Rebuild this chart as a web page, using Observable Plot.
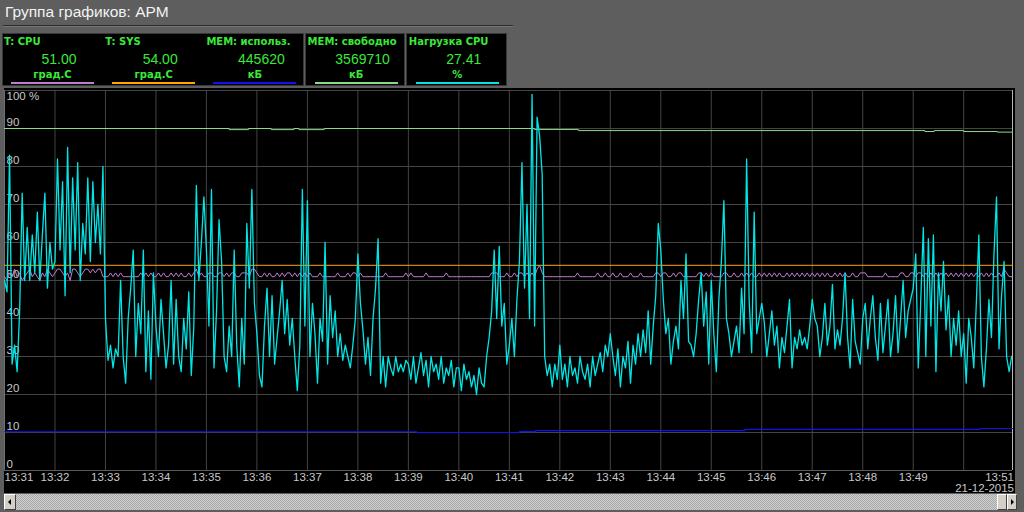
<!DOCTYPE html>
<html><head><meta charset="utf-8">
<script src="https://cdn.jsdelivr.net/npm/d3@7"></script>
<script src="https://cdn.jsdelivr.net/npm/@observablehq/plot@0.6"></script>
<style>
html,body{margin:0;padding:0;}
body{width:1024px;height:512px;background:#5e5e5e;overflow:hidden;position:relative;font-family:"Liberation Sans",Arial,sans-serif;}
.abs{position:absolute;}
#title{left:5px;top:3px;font-size:15.5px;line-height:18px;color:#f2f2f2;white-space:nowrap;}
.box{background:#000;border:1px solid #383838;box-sizing:border-box;}
.lab{font-family:"DejaVu Sans",sans-serif;font-weight:bold;font-size:10px;line-height:12px;color:#3ae83a;white-space:nowrap;}
.val{font-family:"Liberation Sans",Arial,sans-serif;font-size:14px;line-height:16px;color:#3ae83a;width:100px;text-align:center;white-space:nowrap;}
.unit{font-family:"DejaVu Sans",sans-serif;font-weight:bold;font-size:10px;line-height:12px;color:#3ae83a;width:100px;text-align:center;white-space:nowrap;}
#chart{left:4px;top:88px;}
#track{left:4px;top:494px;width:1012px;height:16px;background:repeating-conic-gradient(#cfcfcf 0 25%,#a8a8a8 0 50%) 0 0/2px 2px;}
.btn{top:494px;height:16px;background:#d4d0c8;box-sizing:border-box;border-top:1px solid #fff;border-left:1px solid #fff;border-right:1px solid #404040;border-bottom:1px solid #404040;}
.arrowL{width:0;height:0;border-top:3px solid transparent;border-bottom:3px solid transparent;border-right:3px solid #000;position:absolute;left:3px;top:4px;}
.arrowR{width:0;height:0;border-top:3px solid transparent;border-bottom:3px solid transparent;border-left:3px solid #000;position:absolute;left:3px;top:4px;}
</style></head><body>
<div id="title" class="abs">Группа графиков: АРМ</div>
<div class="abs" style="left:3px;top:25px;width:510px;height:1px;background:#2c2c2c"></div>
<div class="abs" style="left:3px;top:26px;width:510px;height:1px;background:#767676"></div>
<div id="legend"></div>
<div id="chart" class="abs"></div>
<div id="track" class="abs"></div>
<div class="abs btn" style="left:4px;width:12px"><div class="arrowL"></div></div>
<div class="abs btn" style="left:997px;width:10px"></div>
<div class="abs btn" style="left:1007px;width:10px"><div class="arrowR"></div></div>
<script>
// ---------- legend data ----------
const legendLabels = ["T: CPU", "T: SYS", "MEM: использ.", "MEM: свободно", "Нагрузка CPU"];
const legendValues = ["51.00", "54.00", "445620", "3569710", "27.41"];
const legendUnits  = ["град.С", "град.С", "кБ", "кБ", "%"];
const legendColors = ["#c07ed0", "#ffa500", "#1010f0", "#88dc88", "#00e6e6"];
const legendGroups = [[0, 1, 2], [3], [4]];

// ---------- series data (sampled every 3 s from 13:31:00) ----------
const startTime = Date.UTC(2015, 11, 21, 13, 31, 0);
const endSeconds = 1198;
const sampleStep = 3;
const cpuLoad = [
 50,47,83,28,33,26,42,73,50,64,50,62,52,68,50,62,73,48,60,53,
 55,82,58,76,46,85,52,77,58,81,50,65,57,77,55,76,60,70,57,80,
 40,29,33,27,32,30,50,30,23,40,48,58,30,44,36,58,26,42,24,52,
 38,30,45,36,27,33,50,28,45,30,26,40,32,47,25,38,75,50,60,72,
 58,38,74,27,42,66,55,30,26,38,30,58,33,22,40,28,65,48,74,44,
 36,25,22,38,48,30,46,28,35,42,50,36,45,33,40,30,21,33,74,38,
 71,30,44,36,23,40,34,60,28,46,35,42,30,36,29,33,30,27,33,40,
 57,44,37,28,35,25,40,48,61,23,30,22,30,27,25,30,26,28,26,29,
 28,24,30,23,27,31,25,29,22,30,26,28,24,30,23,27,25,29,22,27,
 27,21,28,24,26,22,25,20,27,23,22,30,35,42,58,40,59,38,44,28,
 33,40,30,45,55,81,48,70,40,99,38,93,88,78,30,25,28,22,28,24,
 33,24,28,22,30,25,27,23,30,26,24,28,22,30,25,28,31,26,33,30,
 36,30,25,32,22,30,27,34,23,33,28,36,30,37,31,42,28,38,46,65,
 58,45,36,40,28,34,38,32,50,40,57,34,33,30,36,45,52,38,47,28,
 50,36,26,45,55,71,40,36,30,34,38,31,48,36,82,45,31,68,36,40,
 44,39,30,36,42,33,38,27,35,31,38,45,27,35,32,37,33,35,32,38,
 45,40,38,30,35,44,33,38,49,32,37,33,40,52,35,27,45,34,31,28,
 40,44,32,40,46,35,29,44,31,38,45,30,36,46,31,40,50,35,42,45,
 48,57,27,45,64,30,61,38,62,26,52,42,55,37,46,30,40,33,42,30,
 36,23,40,35,27,44,62,30,22,32,45,35,57,72,32,46,55,30,26,30
];
const tCpu = [
 51,50,52,51,53,51,52,50,51,52,53,51,52,51,50,52,51,53,52,51,
 52,53,53,52,51,52,50,53,53,52,51,52,53,53,52,53,52,53,53,51,
 51,51,52,51,52,51,52,51,51,51,51,51,51,51,52,51,52,51,52,51,
 51,52,51,52,51,51,52,51,52,51,52,51,51,52,51,52,53,51,52,51,
 51,52,52,51,51,52,52,51,52,51,52,52,51,51,52,52,52,51,53,53,
 52,51,51,52,51,52,51,51,52,51,52,51,52,52,51,52,51,52,51,52,
 51,52,51,51,51,52,51,51,51,51,51,51,52,51,51,51,52,51,52,52,
 51,52,51,51,51,51,51,51,51,51,51,52,51,51,51,51,51,51,51,52,
 51,52,51,51,51,51,51,52,51,51,51,51,51,51,51,52,51,51,51,51,
 51,51,51,51,51,51,51,51,51,51,51,51,51,52,52,52,51,51,51,52,
 51,51,52,51,52,52,51,52,51,52,51,53,54,52,51,51,51,51,51,51,
 51,51,51,51,51,51,51,52,51,51,51,51,51,51,51,52,51,51,52,51,
 51,52,51,51,52,51,51,51,52,51,51,51,52,51,51,51,51,51,52,52,
 51,52,52,51,51,52,51,52,52,51,51,51,51,51,51,52,52,51,52,51,
 52,51,51,51,51,52,52,51,51,52,51,51,52,51,52,51,52,51,51,52,
 51,52,51,52,51,52,51,52,51,51,52,51,52,51,52,51,52,51,52,51,
 52,51,52,51,52,51,52,51,51,52,51,52,51,52,51,51,52,51,51,52,
 52,52,51,51,51,51,51,51,51,52,51,51,51,51,51,52,52,51,51,52,
 52,51,52,52,51,52,51,52,51,52,51,52,51,52,51,52,51,52,51,52,
 51,52,51,52,51,52,51,52,51,52,51,52,51,51,52,51,53,52,51,51
];
const tSysSeconds = [0, 1198];
const tSysValues = [54, 54];
const memFreeSeconds = [0, 267, 290, 317, 344, 350, 380, 630, 682, 1094, 1105, 1140, 1180, 1198];
const memFreeValues  = [90.0, 89.7, 90.0, 89.7, 90.0, 89.7, 90.0, 89.75, 89.45, 89.2, 89.45, 89.2, 89.05, 89.05];
const memUsedSeconds = [0, 490, 612, 631, 880, 1159, 1198];
const memUsedValues  = [10.2, 10.0, 10.25, 10.5, 10.8, 11.05, 11.05];

// ---------- axis labels ----------
const yTicks = [0, 10, 20, 30, 40, 50, 60, 70, 80, 90];
const yTopLabel = "100 %";
const xLabelMinutes = d3.range(1, 19);   // 13:32 .. 13:49
const xGridMinutes = d3.range(1, 20);    // 13:32 .. 13:50
const xFirstLabel = "13:31";
const xLastLabel = "13:51";
const dateLabel = "21-12-2015";

// ---------- legend DOM ----------
const legend = document.getElementById("legend");
const boxEdges = [[2, 304], [305, 405], [406, 507]];
legendGroups.forEach((g, gi) => {
  const b = document.createElement("div");
  b.className = "abs box";
  b.style.left = boxEdges[gi][0] + "px";
  b.style.width = (boxEdges[gi][1] - boxEdges[gi][0]) + "px";
  b.style.top = "33px"; b.style.height = "53px";
  legend.appendChild(b);
});
legendLabels.forEach((lab, i) => {
  const L = 4 + 101.2 * i;
  const a = document.createElement("div");
  a.className = "abs lab"; a.textContent = lab;
  a.style.left = L + "px"; a.style.top = "36px";
  legend.appendChild(a);
  const v = document.createElement("div");
  v.className = "abs val"; v.textContent = legendValues[i];
  v.style.left = (L + 55 - 50) + "px"; v.style.top = "51px";
  legend.appendChild(v);
  const u = document.createElement("div");
  u.className = "abs unit"; u.textContent = legendUnits[i];
  u.style.left = (L + 48.5 - 50) + "px"; u.style.top = "68.5px";
  legend.appendChild(u);
  const ln = document.createElement("div");
  ln.className = "abs";
  ln.style.left = Math.round(L + 7) + "px"; ln.style.top = "82px";
  ln.style.width = "83px"; ln.style.height = "2px";
  ln.style.background = legendColors[i];
  legend.appendChild(ln);
});

// ---------- chart ----------
const at = s => new Date(startTime + s * 1000);
const t0 = at(0), t1 = at(endSeconds);
const loadData = cpuLoad.map((v, i) => ({t: at(i * sampleStep), v}));
const cpuData = tCpu.map((v, i) => ({t: at(i * sampleStep), v}));
const sysData = tSysSeconds.map((s, i) => ({t: at(s), v: tSysValues[i]}));
const freeData = memFreeSeconds.map((s, i) => ({t: at(s), v: memFreeValues[i]}));
const usedData = memUsedSeconds.map((s, i) => ({t: at(s), v: memUsedValues[i]}));
const fmt = d3.utcFormat("%H:%M");
const gridColor = "#444444";
const labelColor = "#c8c8c8";

const chart = Plot.plot({
  width: 1011, height: 405,
  marginLeft: 0, marginRight: 3, marginTop: 2, marginBottom: 23,
  style: {background: "#000", fontFamily: "'Liberation Sans', Arial, sans-serif", fontSize: "11.5px", overflow: "visible"},
  x: {type: "utc", domain: [t0, t1], axis: null},
  y: {domain: [0, 100], axis: null},
  marks: [
    Plot.text(yTicks, {x: t0, y: d => d, text: d => String(d), textAnchor: "start", dx: 2, dy: -6, fill: labelColor}),
    Plot.text([100], {x: t0, y: d => d, text: () => yTopLabel, textAnchor: "start", dx: 2, dy: 5.5, fill: labelColor}),
    Plot.ruleY(yTicks.slice(1).concat([100]), {stroke: gridColor}),
    Plot.ruleX(xGridMinutes.map(m => at(m * 60)), {y1: 0, y2: 100, stroke: gridColor}),
    Plot.ruleY([0], {stroke: "#5a5a5a"}),
    Plot.ruleX([t0], {y1: 0, y2: 100, stroke: "#707070"}),
    Plot.ruleX([t1], {y1: 0, y2: 100, stroke: "#b8b8b8"}),
    Plot.text(xLabelMinutes.map(m => at(m * 60)), {x: d => d, y: () => 0, text: d => fmt(d), dy: 7, fill: labelColor}),
    Plot.text([t0], {x: d => d, y: () => 0, text: () => xFirstLabel, textAnchor: "start", dx: 0, dy: 7, fill: labelColor}),
    Plot.text([t1], {x: d => d, y: () => 0, text: () => xLastLabel, textAnchor: "end", dx: 1.5, dy: 7, fill: labelColor}),
    Plot.text([t1], {x: d => d, y: () => 0, text: () => dateLabel, textAnchor: "end", dx: 1.5, dy: 18, fill: labelColor}),
    Plot.line(freeData, {x: "t", y: "v", stroke: legendColors[3], strokeWidth: 1, curve: "step-after"}),
    Plot.line(usedData, {x: "t", y: "v", stroke: legendColors[2], strokeWidth: 1.2, curve: "step-after"}),
    Plot.line(sysData, {x: "t", y: "v", stroke: legendColors[1], strokeWidth: 1}),
    Plot.line(cpuData, {x: "t", y: "v", stroke: legendColors[0], strokeWidth: 1}),
    Plot.line(loadData, {x: "t", y: "v", stroke: legendColors[4], strokeWidth: 1.3})
  ]
});
document.getElementById("chart").appendChild(chart);
</script>
</body></html>
